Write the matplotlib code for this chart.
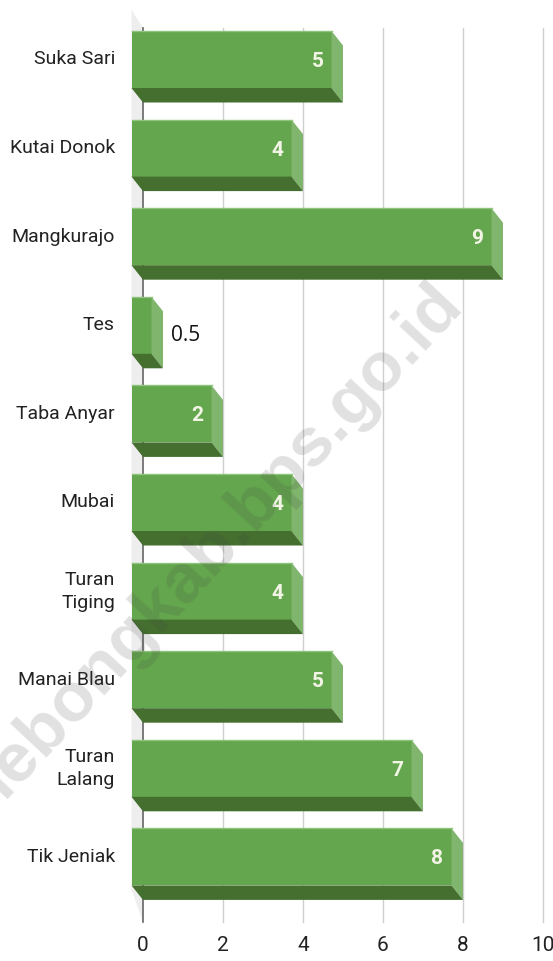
import matplotlib.pyplot as plt
from matplotlib.patches import Polygon

villages = ["Suka Sari", "Kutai Donok", "Mangkurajo", "Tes", "Taba Anyar", "Mubai",
            "Turan\nTiging", "Manai Blau", "Turan\nLalang", "Tik Jeniak"]
values = [5, 4, 9, 0.5, 2, 4, 4, 5, 7, 8]
x_ticks = [0, 2, 4, 6, 8, 10]

front = "#64a64d"
side = "#7fb56c"
under = "#446f2f"

# pixel scale of the reference: 40 px per unit, 88.6 px per bar
W, H = 553, 962
sx = 40.0
sy = 88.6
dx = 11.5 / sx
dy = 14.5 / sy
half = 28.5 / sy

plt.rcParams['font.family'] = ['Roboto', 'Liberation Sans', 'DejaVu Sans']

fig = plt.figure(figsize=(W / 100, H / 100), dpi=100)
ax = fig.add_axes([0, 0, 1, 1])
ax.set_xlim(-143 / sx, (W - 143) / sx)
ax.set_ylim((H - 60.5) / sy, -60.5 / sy)
ax.axis('off')

# back wall and floor
y_top = -half - 3 / sy
y_bot = 9 + half + dy + 22 / sy
ax.add_patch(Polygon([(-dx, y_top - 18 / sy), (0, y_top), (0, y_bot), (-dx, y_bot - 32 / sy)],
                     closed=True, fc="#eeeeee", ec="none", zorder=1))

for t in x_ticks:
    ax.plot([t, t], [y_top, y_bot], color="#666666" if t == 0 else "#cfcfcf", lw=1.2 if t == 0 else 1, zorder=2)
    ax.text(t, y_bot + 23 / sy, str(t), ha='center', va='center', fontsize=15, color="#222222")

for i, v in enumerate(values):
    right = v - dx
    left = -dx
    top = i - half
    bot = i + half
    ax.barh(i, right - left, left=left, height=2 * half, color=front, zorder=3)
    ax.plot([left, right], [top, top], color="#8fc47c", lw=1, zorder=4)
    ax.add_patch(Polygon([(right, top), (v, top + dy), (v, bot + dy), (right, bot)],
                         closed=True, fc=side, ec="none", zorder=3))
    ax.add_patch(Polygon([(left, bot), (right, bot), (v, bot + dy), (left + dx, bot + dy)],
                         closed=True, fc=under, ec="none", zorder=3))
    ax.text(-28 / sx, i - 1 / sy, villages[i], ha='right', va='center', fontsize=14, color="#222222",
            linespacing=1.35, zorder=5)
    if v >= 1:
        ax.text(right - 14 / sx, i + 1 / sy, str(v), ha='center', va='center', fontsize=15,
                fontweight='bold', color="#f2f5e6", zorder=5)
    else:
        ax.text(v + 23 / sx, i + 9 / sy, str(v), ha='center', va='center', fontsize=15,
                family=['Open Sans', 'DejaVu Sans'], color="#111111", zorder=5)

# watermark, runs off the left edge as in the source image
ax.text(308 / sx, 2.62, "lebongkab.bps.go.id", rotation=47, rotation_mode='anchor', ha='right', va='center',
        fontsize=50, fontweight='bold', family=['Liberation Sans', 'DejaVu Sans'], color="#444444",
        alpha=0.16, zorder=6)

fig.savefig("out.png", dpi=100)
